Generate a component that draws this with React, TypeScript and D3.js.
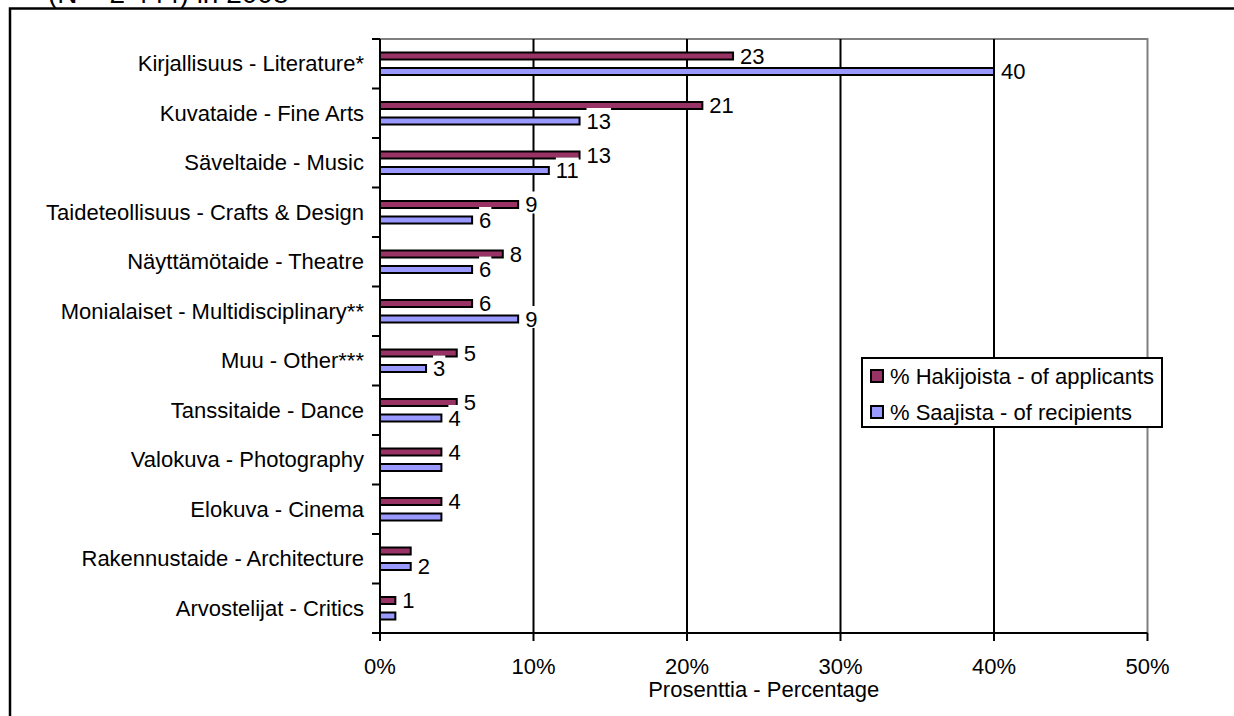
import * as React from "react";
import * as d3 from "d3";

// art forms, top to bottom
const categories = [
  "Kirjallisuus - Literature*",
  "Kuvataide - Fine Arts",
  "Säveltaide - Music",
  "Taideteollisuus - Crafts & Design",
  "Näyttämötaide - Theatre",
  "Monialaiset - Multidisciplinary**",
  "Muu - Other***",
  "Tanssitaide - Dance",
  "Valokuva - Photography",
  "Elokuva - Cinema",
  "Rakennustaide - Architecture",
  "Arvostelijat - Critics",
];
const applicants = [23, 21, 13, 9, 8, 6, 5, 5, 4, 4, 2, 1];
const recipients = [40, 13, 11, 6, 6, 9, 3, 4, 4, 4, 2, 1];
// which value labels are visible in the original ("a" applicants, "r" recipients)
const shownLabels = ["ar", "ar", "ar", "ar", "ar", "ar", "ar", "ar", "a", "a", "r", "a"];
const seriesNames = ["% Hakijoista - of applicants", "% Saajista - of recipients"];
const seriesColors = ["#993366", "#9999FF"];
const xTicks = [0, 10, 20, 30, 40, 50];
const xTitle = "Prosenttia - Percentage";
const cutTitle = "(N = 2 444) in 2008";

const FONT = "'Liberation Sans', Arial, sans-serif";
const FS = 22;

export default function App() {
  const ref = React.useRef<SVGSVGElement>(null);

  React.useEffect(() => {
    const svg = d3.select(ref.current);
    svg.selectAll("*").remove();

    const left = 380, right = 1147.5, top = 39, bottom = 633;
    const x = d3.scaleLinear().domain([0, 50]).range([left, right]);
    const y = d3.scaleBand().domain(categories).range([top, bottom]).padding(0);
    const sub = d3.scalePoint().domain(["a", "r"]).range([-7.75, 7.75]);
    const barH = 7;

    // outer frame (runs off the page) and clipped title
    svg.append("text")
      .attr("x", 48).attr("y", 3)
      .attr("font-family", FONT).attr("font-size", 28)
      .text(cutTitle);
    svg.append("rect")
      .attr("x", 10).attr("y", 8.5).attr("width", 1300).attr("height", 800)
      .attr("fill", "none").attr("stroke", "#000").attr("stroke-width", 2.5);

    // plot border top/right grey
    svg.append("path")
      .attr("d", `M${left},${top}H${right}V${bottom}`)
      .attr("fill", "none").attr("stroke", "#808080").attr("stroke-width", 2);

    // gridlines
    svg.append("g").selectAll("line")
      .data(xTicks.filter(t => t > 0 && t < 50))
      .join("line")
      .attr("x1", d => x(d)).attr("x2", d => x(d))
      .attr("y1", top).attr("y2", bottom)
      .attr("stroke", "#000").attr("stroke-width", 2);

    // bars
    const bars = categories.flatMap((c, i) => [
      { c, k: "a", v: applicants[i], color: seriesColors[0], show: shownLabels[i].includes("a") },
      { c, k: "r", v: recipients[i], color: seriesColors[1], show: shownLabels[i].includes("r") },
    ]);
    const cy = (d) => y(d.c)! + y.bandwidth() / 2 + sub(d.k)!;

    svg.append("g").selectAll("rect")
      .data(bars)
      .join("rect")
      .attr("x", x(0))
      .attr("y", d => cy(d) - barH / 2)
      .attr("width", d => x(d.v) - x(0))
      .attr("height", barH)
      .attr("fill", d => d.color)
      .attr("stroke", "#000").attr("stroke-width", 2);

    // value labels with white background
    const lab = svg.append("g")
      .attr("font-family", FONT).attr("font-size", FS);
    bars.filter(d => d.show).forEach(d => {
      const g = lab.append("g");
      const bg = g.append("rect").attr("fill", "#fff");
      const t = g.append("text")
        .attr("x", x(d.v) + 7)
        .attr("y", cy(d))
        .attr("dy", "0.35em")
        .text(d.v);
      const w = (t.node() as SVGTextElement).getComputedTextLength();
      bg.attr("x", x(d.v) + 7).attr("y", cy(d) - 13).attr("width", w).attr("height", 22);
    });

    // left axis
    svg.append("line")
      .attr("x1", left).attr("x2", left).attr("y1", top).attr("y2", bottom)
      .attr("stroke", "#000").attr("stroke-width", 2);
    svg.append("g").selectAll("line")
      .data(d3.range(categories.length + 1))
      .join("line")
      .attr("x1", left - 8).attr("x2", left)
      .attr("y1", i => top + i * y.step()).attr("y2", i => top + i * y.step())
      .attr("stroke", "#000").attr("stroke-width", 2);
    svg.append("g")
      .attr("font-family", FONT).attr("font-size", FS)
      .attr("text-anchor", "end")
      .selectAll("text")
      .data(categories)
      .join("text")
      .attr("x", left - 16)
      .attr("y", d => y(d)! + y.bandwidth() / 2)
      .attr("dy", "0.35em")
      .text(d => d);

    // bottom axis
    svg.append("line")
      .attr("x1", left - 8).attr("x2", right).attr("y1", bottom).attr("y2", bottom)
      .attr("stroke", "#000").attr("stroke-width", 2);
    svg.append("g").selectAll("line")
      .data(xTicks)
      .join("line")
      .attr("x1", d => x(d)).attr("x2", d => x(d))
      .attr("y1", bottom).attr("y2", bottom + 8)
      .attr("stroke", "#000").attr("stroke-width", 2);
    svg.append("g")
      .attr("font-family", FONT).attr("font-size", FS)
      .attr("text-anchor", "middle")
      .selectAll("text")
      .data(xTicks)
      .join("text")
      .attr("x", d => x(d))
      .attr("y", 673.5)
      .text(d => `${d}%`);
    svg.append("text")
      .attr("x", (left + right) / 2).attr("y", 697)
      .attr("text-anchor", "middle")
      .attr("font-family", FONT).attr("font-size", FS)
      .text(xTitle);

    // legend
    const lg = svg.append("g");
    lg.append("rect")
      .attr("x", 862).attr("y", 358).attr("width", 300).attr("height", 69)
      .attr("fill", "#fff").attr("stroke", "#000").attr("stroke-width", 2);
    seriesNames.forEach((name, i) => {
      const ry = 376 + i * 36;
      lg.append("rect")
        .attr("x", 871).attr("y", ry - 6).attr("width", 12).attr("height", 12)
        .attr("fill", seriesColors[i]).attr("stroke", "#000").attr("stroke-width", 2);
      lg.append("text")
        .attr("x", 890).attr("y", ry).attr("dy", "0.35em")
        .attr("font-family", FONT).attr("font-size", FS)
        .text(name);
    });
  }, []);

  return (
    <svg
      ref={ref}
      width={1234}
      height={716}
      style={{ position: "absolute", left: 0, top: 0, background: "#fff", overflow: "hidden" }}
    />
  );
}
